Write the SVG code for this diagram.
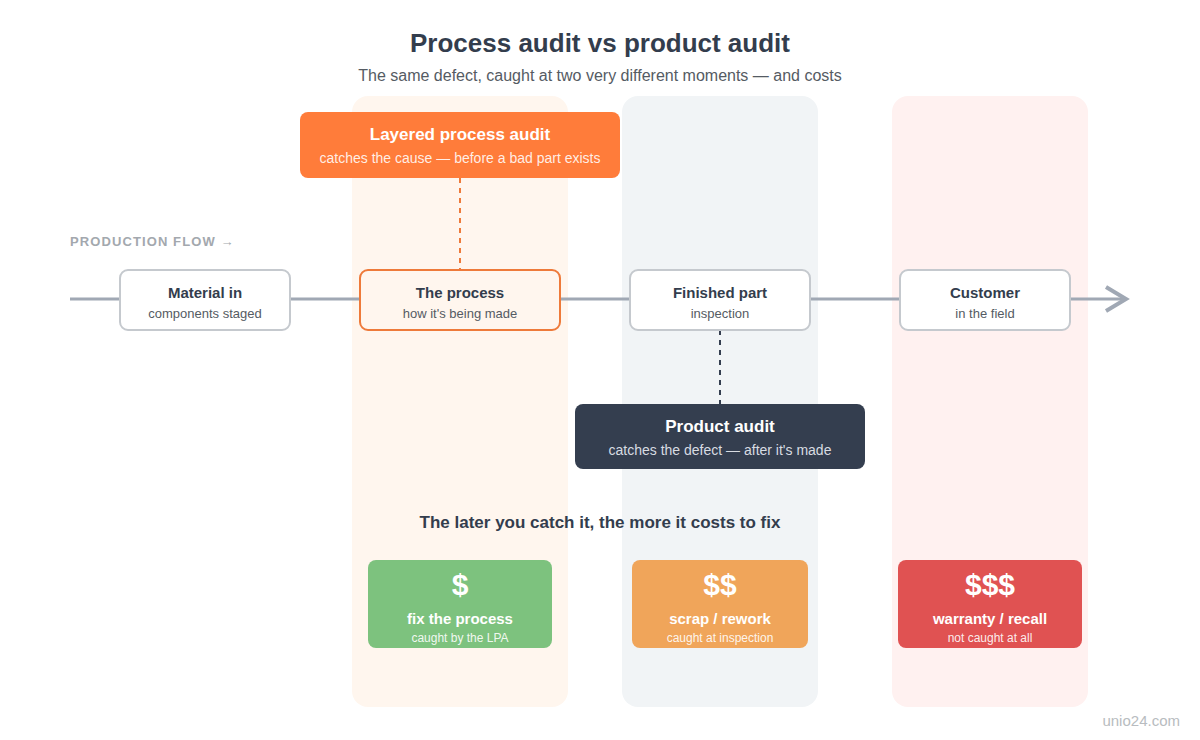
<svg xmlns="http://www.w3.org/2000/svg" width="1200" height="740" viewBox="0 0 1200 740">
<defs>
<style>
text{font-family:"Liberation Sans",Arial,sans-serif;text-anchor:middle}
.t{font-weight:bold;fill:#333d4d}
.node rect{fill:#fff;stroke:#c5c9ce;stroke-width:2}
.nt{font-size:15px;font-weight:bold;fill:#333d4d}
.ns{font-size:13px;fill:#555b63}
.ct{font-size:15px;font-weight:bold;fill:#fff}
.cs{font-size:12px;fill:#fff;fill-opacity:.9}
.cd{font-size:30px;font-weight:bold;fill:#fff}
</style>
</defs>
<rect width="1200" height="740" fill="#fff"/>
<g id="bands">
<rect x="352" y="96" width="216" height="611" rx="16" fill="#fff6ee"/>
<rect x="622" y="96" width="196" height="611" rx="16" fill="#f1f4f6"/>
<rect x="892" y="96" width="196" height="611" rx="16" fill="#fff1f0"/>
</g>
<text class="t" x="600" y="52" font-size="26">Process audit vs product audit</text>
<text x="600" y="81" font-size="16" fill="#555b63">The same defect, caught at two very different moments — and costs</text>
<text x="70" y="246" font-size="13" font-weight="bold" fill="#a3a8ae" letter-spacing="1.1" style="text-anchor:start">PRODUCTION FLOW →</text>
<g id="connectors">
<line x1="70" y1="299" x2="1124" y2="299" stroke="#a0a8b4" stroke-width="3"/>
<path d="M1106,287 L1126,299 L1106,311" fill="none" stroke="#a0a8b4" stroke-width="4"/>
<line x1="460" y1="178" x2="460" y2="270" stroke="#ee7a3a" stroke-width="2" stroke-dasharray="5,5"/>
<line x1="720" y1="330" x2="720" y2="404" stroke="#343e4f" stroke-width="2" stroke-dasharray="5,5"/>
</g>
<g id="material" class="node">
<rect x="120" y="270" width="170" height="60" rx="8"/>
<text class="nt" x="205" y="298">Material in</text>
<text class="ns" x="205" y="318">components staged</text>
</g>
<g id="process">
<rect x="360" y="270" width="200" height="60" rx="8" fill="#fff6ee" stroke="#ee7a3a" stroke-width="2"/>
<text class="nt" x="460" y="298">The process</text>
<text class="ns" x="460" y="318">how it's being made</text>
</g>
<g id="finished" class="node">
<rect x="630" y="270" width="180" height="60" rx="8"/>
<text class="nt" x="720" y="298">Finished part</text>
<text class="ns" x="720" y="318">inspection</text>
</g>
<g id="customer" class="node">
<rect x="900" y="270" width="170" height="60" rx="8"/>
<text class="nt" x="985" y="298">Customer</text>
<text class="ns" x="985" y="318">in the field</text>
</g>
<g id="lpa">
<rect x="300" y="112" width="320" height="66" rx="8" fill="#ff7c3a"/>
<text x="460" y="140" font-size="17" font-weight="bold" fill="#fff">Layered process audit</text>
<text x="460" y="163" font-size="14" fill="#fff" fill-opacity=".88">catches the cause — before a bad part exists</text>
</g>
<g id="product">
<rect x="575" y="404" width="290" height="65" rx="8" fill="#343e4f"/>
<text x="720" y="432" font-size="17" font-weight="bold" fill="#fff">Product audit</text>
<text x="720" y="455" font-size="14" fill="#d8dce2">catches the defect — after it's made</text>
</g>
<text class="t" x="600" y="528" font-size="17">The later you catch it, the more it costs to fix</text>
<g id="cost1">
<rect x="368" y="560" width="184" height="88" rx="8" fill="#7dc27e"/>
<text class="cd" x="460" y="595">$</text>
<text class="ct" x="460" y="624">fix the process</text>
<text class="cs" x="460" y="642">caught by the LPA</text>
</g>
<g id="cost2">
<rect x="632" y="560" width="176" height="88" rx="8" fill="#f0a55a"/>
<text class="cd" x="720" y="595">$$</text>
<text class="ct" x="720" y="624">scrap / rework</text>
<text class="cs" x="720" y="642">caught at inspection</text>
</g>
<g id="cost3">
<rect x="898" y="560" width="184" height="88" rx="8" fill="#e05252"/>
<text class="cd" x="990" y="595">$$$</text>
<text class="ct" x="990" y="624">warranty / recall</text>
<text class="cs" x="990" y="642">not caught at all</text>
</g>
<text x="1180" y="726" font-size="15" fill="#b8bcc0" style="text-anchor:end">unio24.com</text>
</svg>
